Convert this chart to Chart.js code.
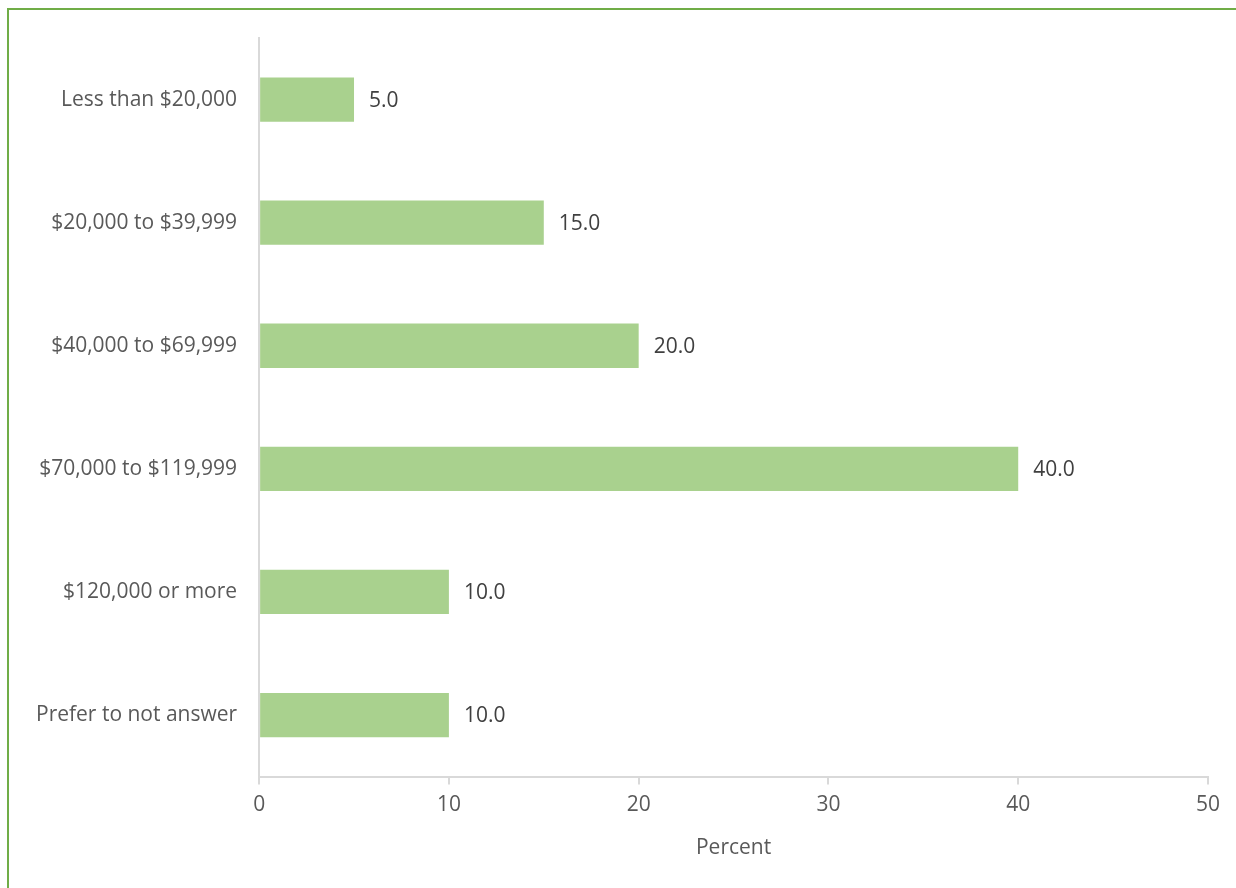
<!DOCTYPE html>
<html>
<head>
<meta charset="utf-8">
<script src="https://cdn.jsdelivr.net/npm/chart.js@4"></script>
<style>
  html, body { margin: 0; padding: 0; background: #fff; overflow: hidden; }
  #frame {
    position: absolute; left: 7px; top: 8px;
    width: 1300px; height: 960px;
    border: 2px solid #70AD47; box-sizing: border-box;
  }
  #wrap { position: absolute; left: 0; top: 0; width: 1236px; height: 888px; }
</style>
</head>
<body>
<div id="frame"></div>
<div id="wrap"><canvas id="incomeCanvas" width="1236" height="888"></canvas></div>
<script>
// household income brackets and share of respondents (%)
const incomeLabels = [
  "Less than $20,000",
  "$20,000 to $39,999",
  "$40,000 to $69,999",
  "$70,000 to $119,999",
  "$120,000 or more",
  "Prefer to not answer"
];
const incomePercent = [5.0, 15.0, 20.0, 40.0, 10.0, 10.0];
const percentTicks = [0, 10, 20, 30, 40, 50];

const FONT = "'Open Sans', 'DejaVu Sans', sans-serif";
const FONT_SIZE = 21;

// writes the value to the right of each bar
const valueLabels = {
  id: 'valueLabels',
  afterDatasetsDraw(chart) {
    const ctx = chart.ctx;
    const meta = chart.getDatasetMeta(0);
    ctx.save();
    ctx.font = `${FONT_SIZE}px ${FONT}`;
    ctx.fillStyle = '#404040';
    ctx.textAlign = 'left';
    ctx.textBaseline = 'middle';
    meta.data.forEach((bar, i) => {
      ctx.fillText(incomePercent[i].toFixed(1), bar.x + 15, bar.y + 1);
    });
    ctx.restore();
  }
};

let incomeChart = new Chart(document.getElementById("incomeCanvas").getContext("2d"), {
  type: 'bar',
  data: {
    labels: incomeLabels,
    datasets: [{
      data: incomePercent,
      backgroundColor: '#A9D18E',
      borderWidth: 0,
      categoryPercentage: 1.0,
      barPercentage: 0.36
    }]
  },
  options: {
    indexAxis: 'y',
    responsive: false,
    animation: false,
    layout: { padding: { left: 22, right: 28, top: 38, bottom: 23 } },
    plugins: {
      legend: { display: false },
      tooltip: { enabled: false }
    },
    scales: {
      x: {
        type: 'linear',
        min: 0,
        max: 50,
        afterBuildTicks: axis => { axis.ticks = percentTicks.map(v => ({ value: v })); },
        grid: {
          display: true,
          drawOnChartArea: false,
          drawTicks: true,
          tickLength: 8,
          color: '#D9D9D9',
          lineWidth: 2
        },
        border: { display: true, color: '#D9D9D9', width: 2 },
        ticks: { color: '#595959', font: { family: FONT, size: FONT_SIZE }, padding: 8 },
        title: {
          display: true,
          text: 'Percent',
          color: '#595959',
          font: { family: FONT, size: FONT_SIZE },
          padding: { top: 10 }
        }
      },
      y: {
        grid: { display: false },
        border: { display: true, color: '#D9D9D9', width: 2 },
        ticks: { color: '#595959', font: { family: FONT, size: FONT_SIZE }, padding: 14 }
      }
    }
  },
  plugins: [valueLabels]
});
</script>
</body>
</html>
